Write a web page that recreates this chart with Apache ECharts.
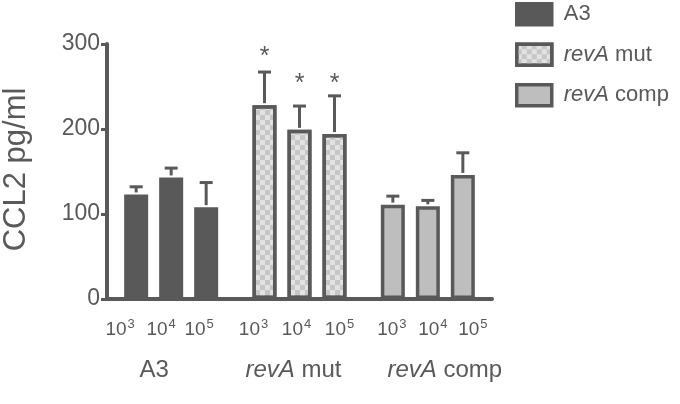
<!DOCTYPE html>
<html>
<head>
<meta charset="utf-8">
<script src="https://cdn.jsdelivr.net/npm/echarts@6/dist/echarts.min.js"></script>
<style>html,body{margin:0;padding:0;background:#fff}#c{width:680px;height:404px}</style>
</head>
<body>
<div id="c"></div>
<script>
// ---- data ----
const groups = ['A3', 'revA mut', 'revA comp'];
const doses = ['3', '4', '5']; // exponents: 10^3, 10^4, 10^5
// means per group, per dose
const meanA3 = [123, 143, 108];
const meanMut = [228, 199, 194];
const meanComp = [111, 109, 146];
// SD (upper error) per group, per dose
const errA3 = [9, 11, 29];
const errMut = [39, 28, 45];
const errComp = [10, 7, 26];
// significance marks (value level of the asterisk), null = none
const starA3 = [null, null, null];
const starMut = [289, 257, 257];
const starComp = [null, null, null];
const yTicks = [0, 100, 200, 300];

// ---- styles ----
const GREY = '#595959';
const FONT = 'Liberation Sans';
const BAR_W = 24;
const BAR_STEP = 35;
// label nudges (px) to mimic the hand-placed labels of the original
const doseLabelShift = [[-16, -10, -7], [-11, -3, 5], [-1, 5, 10]];
const groupLabelShift = [-17, -6, 17];

const decalChecker = {
  symbol: 'rect', symbolSize: 1, color: '#c6c6c6',
  dashArrayX: [[5, 5], [0, 5, 5, 0]], dashArrayY: [5, 0], rotation: 0
};
const groupStyles = [
  { color: GREY, borderColor: GREY, borderWidth: 3.5 },
  { color: '#e2e2e2', borderColor: GREY, borderWidth: 3.5, decal: decalChecker },
  { color: '#bebebe', borderColor: GREY, borderWidth: 3.5 }
];

const means = [meanA3, meanMut, meanComp];
const errs = [errA3, errMut, errComp];
const stars = [starA3, starMut, starComp];

const series = [];
doses.forEach((d, di) => {
  series.push({
    type: 'bar', name: '10^' + d, barWidth: BAR_W,
    barGap: ((BAR_STEP - BAR_W) / BAR_W * 100) + '%',
    data: groups.map((g, gi) => ({
      value: means[gi][di], itemStyle: groupStyles[gi],
      label: { offset: [doseLabelShift[gi][di], 0] }
    })),
    label: {
      show: true, position: 'bottom', distance: 19,
      formatter: '{b|10}{s|' + d + '}',
      rich: {
        b: { fontSize: 19, color: GREY, fontFamily: FONT },
        s: { fontSize: 13, color: GREY, fontFamily: FONT, padding: [0, 0, 11, 1] }
      }
    },
    silent: true, animation: false
  });
});

// error bars + asterisks
const errData = [];
groups.forEach((g, gi) => doses.forEach((d, di) => {
  errData.push([gi, di, means[gi][di], errs[gi][di], stars[gi][di] == null ? NaN : stars[gi][di]]);
}));
series.push({
  type: 'custom', name: 'err', animation: false, silent: true, z: 5,
  data: errData,
  encode: { x: 0, y: 2 },
  renderItem: function (params, api) {
    const gi = api.value(0), di = api.value(1), m = api.value(2), e = api.value(3), s = api.value(4);
    const base = api.coord([gi, m]);
    const top = api.coord([gi, m + e]);
    const x = base[0] + (di - 1) * BAR_STEP;
    const children = [
      { type: 'line', shape: { x1: x, y1: base[1] - 2, x2: x, y2: top[1] }, style: { stroke: GREY, lineWidth: 3 } },
      { type: 'line', shape: { x1: x - 6.5, y1: top[1], x2: x + 6.5, y2: top[1] }, style: { stroke: GREY, lineWidth: 3 } }
    ];
    if (!isNaN(s)) {
      const sp = api.coord([gi, s]);
      children.push({ type: 'text', style: { text: '*', x: x, y: sp[1] + 4, align: 'center', verticalAlign: 'middle', fontSize: 25, fill: GREY, fontFamily: FONT } });
    }
    return { type: 'group', children: children };
  }
});

// legend entries
const legendNames = ['A3', 'revA mut', 'revA comp'];
legendNames.forEach((n, i) => {
  series.push({ type: 'bar', name: n, xAxisIndex: 1, data: [], itemStyle: groupStyles[i], animation: false });
});

const chart = echarts.init(document.getElementById('c'), null, { renderer: 'canvas' });
chart.setOption({
  animation: false,
  textStyle: { fontFamily: FONT },
  grid: { left: 107, right: 188, top: 44, bottom: 105, containLabel: false, outerBoundsMode: 'none' },
  legend: {
    orient: 'vertical', left: 515, top: 2, padding: 0, itemWidth: 35, itemHeight: 21, itemGap: 16, icon: 'rect',
    data: legendNames.map((n, i) => ({ name: n, itemStyle: groupStyles[i] })),
    formatter: function (n) { return n.indexOf('revA') === 0 ? '{i|revA}{n|' + n.slice(4) + '}' : '{n|' + n + '}'; },
    textStyle: { fontSize: 22, color: GREY, padding: [0, 0, 0, 7], fontFamily: FONT, lineHeight: 22,
      rich: {
        i: { fontStyle: 'italic', fontSize: 22, color: GREY, fontFamily: FONT, lineHeight: 22 },
        n: { fontSize: 22, color: GREY, fontFamily: FONT, lineHeight: 22 }
      } },
    selectedMode: false
  },
  xAxis: [{
    type: 'category', data: groups,
    axisLine: { lineStyle: { color: GREY, width: 4 } },
    axisTick: { show: false },
    axisLabel: {
      margin: 59, color: GREY, fontSize: 24, interval: 0,
      formatter: function (v, idx) {
        const sh = groupLabelShift[idx];
        const txt = v.indexOf('revA') === 0 ? '{i|revA}{n|' + v.slice(4) + '}' : '{n|' + v + '}';
        const sp = '{sp' + idx + '|}';
        return sh < 0 ? txt + sp : sp + txt;
      },
      rich: {
        i: { fontStyle: 'italic', fontSize: 24, color: GREY, fontFamily: FONT },
        n: { fontSize: 24, color: GREY, fontFamily: FONT },
        sp0: { width: Math.abs(groupLabelShift[0]) * 2 },
        sp1: { width: Math.abs(groupLabelShift[1]) * 2 },
        sp2: { width: Math.abs(groupLabelShift[2]) * 2 }
      }
    }
  }, {
    type: 'category', data: [''], show: false
  }],
  yAxis: {
    type: 'value', min: yTicks[0], max: yTicks[yTicks.length - 1], interval: 100,
    name: 'CCL2 pg/ml', nameLocation: 'middle', nameGap: 75,
    nameTextStyle: { fontSize: 31, color: GREY, fontFamily: FONT, padding: [0, 0, 0, 4] },
    axisLine: { show: true, lineStyle: { color: GREY, width: 4 } },
    axisTick: { show: true, length: 6, lineStyle: { color: GREY, width: 3 } },
    axisLabel: { fontSize: 23, color: GREY, margin: 7 },
    splitLine: { show: false }
  },
  series: series
});
</script>
</body>
</html>
